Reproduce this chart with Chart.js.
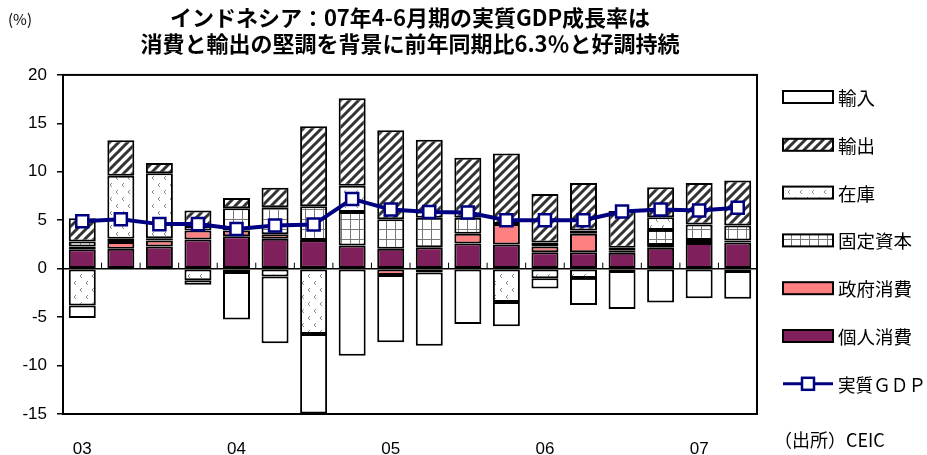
<!DOCTYPE html>
<html>
<head>
<meta charset="utf-8">
<style>
  html, body { margin: 0; padding: 0; background: #fff; }
  #wrap { width: 927px; height: 455px; }
</style>
<script src="https://cdn.jsdelivr.net/npm/chart.js@4"></script>
</head>
<body>
<div id="wrap"><canvas id="myChart" width="927" height="455"></canvas></div>
<script>
// quarters 2003Q1 - 2007Q2
const quarters = ["03Q1", "03Q2", "03Q3", "03Q4", "04Q1", "04Q2", "04Q3", "04Q4", "05Q1",
  "05Q2", "05Q3", "05Q4", "06Q1", "06Q2", "06Q3", "06Q4", "07Q1", "07Q2"];

// contributions (% pt)
const kojinShohi = [2.0, 2.05, 2.3, 3.0, 3.35, 3.1, 2.95, 2.4, 2.05, 2.2, 2.6, 2.5, 1.7, 1.7, 1.65, 2.15, 2.65, 2.7];
const seifuShohi = [0.3, 0.7, 0.6, 0.95, 0.6, 0.45, 0, 0, -0.65, -0.4, 1.0, 2.1, 0.6, 1.9, 0.2, 0.3, 0.3, 0.2];
const koteiShihon = [0.5, 0.35, 0.25, 0.45, 2.3, 2.8, 3.5, 3.45, 3.05, 3.05, 1.65, 0, 0.4, 0.35, 0.3, 1.55, 1.6, 1.55];
const zaiko = [-3.8, 6.5, 6.7, -1.2, -0.35, -0.8, -6.75, 2.7, 0, 0, 0, -3.45, -1.0, -0.95, -0.25, 1.3, 0, -0.25];
const yushutsu = [2.4, 3.65, 1.05, 1.6, 1.05, 2.0, 8.25, 9.05, 9.2, 8.05, 6.2, 7.3, 5.0, 4.9, 3.8, 3.1, 4.3, 4.65];
const yunyu = [-1.3, 0, -0.1, -0.45, -4.9, -6.9, -8.2, -9.0, -6.95, -7.55, -5.7, -2.5, -1.05, -2.8, -3.9, -3.5, -3.05, -2.85];
const realGdp = [4.9, 5.1, 4.6, 4.6, 4.1, 4.45, 4.55, 7.2, 6.1, 5.85, 5.8, 5.0, 5.0, 5.0, 5.9, 6.1, 6.0, 6.3];

const yTicks = { min: -15, max: 20, step: 5 };
const titleLines = ["インドネシア：07年4-6月期の実質GDP成長率は", "消費と輸出の堅調を背景に前年同期比6.3％と好調持続"];

// fill patterns
function makePattern(kind) {
  const c = document.createElement("canvas");
  const g = c.getContext("2d");
  if (kind == "hatch") {
    c.width = 9; c.height = 9;
    g.fillStyle = "#fff"; g.fillRect(0, 0, 9, 9);
    g.strokeStyle = "#333"; g.lineWidth = 3;
    g.beginPath();
    g.moveTo(-2, 11); g.lineTo(11, -2);
    g.moveTo(-2, 2); g.lineTo(2, -2);
    g.moveTo(7, 11); g.lineTo(11, 7);
    g.stroke();
  } else if (kind == "dots") {
    c.width = 12; c.height = 14;
    g.fillStyle = "#fff"; g.fillRect(0, 0, 12, 14);
    g.strokeStyle = "#888"; g.lineWidth = 1;
    g.beginPath();
    g.moveTo(4, 1); g.lineTo(2, 3); g.lineTo(4, 5);
    g.moveTo(10, 8); g.lineTo(8, 10); g.lineTo(10, 12);
    g.stroke();
  } else {
    c.width = 9; c.height = 10;
    g.fillStyle = "#fff"; g.fillRect(0, 0, 9, 10);
    g.strokeStyle = "#777"; g.lineWidth = 1;
    g.beginPath();
    g.moveTo(8.5, 0); g.lineTo(8.5, 10);
    g.moveTo(0, 9.5); g.lineTo(9, 9.5);
    g.stroke();
  }
  return g.createPattern(c, "repeat");
}

const barBase = { type: "bar", borderColor: "#000", borderWidth: 2, borderSkipped: false, order: 1 };

// stacked from bottom: 個人 -> 政府 -> 固定 -> 在庫 -> 輸出 -> 輸入
const datasets = [
  Object.assign({ label: "個人消費", data: kojinShohi, backgroundColor: "#7f1f5c" }, barBase),
  Object.assign({ label: "政府消費", data: seifuShohi, backgroundColor: "#ff8080" }, barBase),
  Object.assign({ label: "固定資本", data: koteiShihon, backgroundColor: makePattern("grid") }, barBase),
  Object.assign({ label: "在庫", data: zaiko, backgroundColor: makePattern("dots") }, barBase),
  Object.assign({ label: "輸出", data: yushutsu, backgroundColor: makePattern("hatch") }, barBase),
  Object.assign({ label: "輸入", data: yunyu, backgroundColor: "#fff" }, barBase),
  {
    type: "line", label: "実質ＧＤＰ", data: realGdp, stack: "gdp", order: 0,
    borderColor: "#000080", borderWidth: 4, pointStyle: "rect", pointRadius: 8.5,
    pointBorderWidth: 2.5, pointBackgroundColor: "#fff", pointBorderColor: "#000080"
  }
];
const legendOrder = ["輸入", "輸出", "在庫", "固定資本", "政府消費", "個人消費", "実質ＧＤＰ"];

const jpFont = "'Noto Sans CJK JP', sans-serif";
const numFont = "'Liberation Sans', Arial, sans-serif";

// frame, zero-line ticks, legend, side notes
const extras = {
  id: "extras",
  afterDatasetsDraw(chart) {
    const ctx = chart.ctx, a = chart.chartArea;
    const xs = chart.scales.x, ys = chart.scales.y;
    const y0 = ys.getPixelForValue(0);
    ctx.save();
    ctx.strokeStyle = "#000";
    ctx.lineWidth = 1;
    ctx.beginPath();
    for (let i = 1; i < quarters.length; i++) {
      const bx = (xs.getPixelForValue(i - 1) + xs.getPixelForValue(i)) / 2;
      ctx.moveTo(bx, y0 - 6); ctx.lineTo(bx, y0);
    }
    ctx.stroke();
    ctx.lineWidth = 2;
    ctx.strokeRect(a.left, a.top, a.right - a.left, a.bottom - a.top);
    ctx.restore();
  },
  afterDraw(chart) {
    const ctx = chart.ctx;
    ctx.save();
    ctx.fillStyle = "#000";
    ctx.textBaseline = "middle";
    ctx.font = "15px " + jpFont;
    ctx.fillText("(%)", 8, 19);
    ctx.font = "18px " + jpFont;
    ctx.fillText("（出所）CEIC", 774, 440);

    // legend
    const lx = 783, bw = 50, bh = 12;
    legendOrder.forEach(function (name, k) {
      const ds = chart.data.datasets.find(function (d) { return d.label == name; });
      const cy = 97 + k * 47.8;
      if (ds.type == "line") {
        ctx.strokeStyle = ds.borderColor; ctx.lineWidth = 3;
        ctx.beginPath(); ctx.moveTo(lx, cy); ctx.lineTo(lx + bw, cy); ctx.stroke();
        ctx.fillStyle = "#fff"; ctx.lineWidth = 2.5;
        ctx.fillRect(lx + bw / 2 - 6, cy - 6, 12, 12);
        ctx.strokeRect(lx + bw / 2 - 6, cy - 6, 12, 12);
      } else {
        ctx.fillStyle = ds.backgroundColor;
        ctx.fillRect(lx, cy - bh / 2, bw, bh);
        ctx.strokeStyle = "#000"; ctx.lineWidth = 2;
        ctx.strokeRect(lx, cy - bh / 2, bw, bh);
      }
      ctx.fillStyle = "#000";
      ctx.font = "18.5px " + jpFont;
      ctx.fillText(name, lx + bw + 5, cy + 1, 88);
    });
    ctx.restore();
  }
};

const ctx = document.getElementById("myChart").getContext("2d");
const myChart = new Chart(ctx, {
  data: { labels: quarters, datasets: datasets },
  options: {
    responsive: false,
    animation: false,
    layout: { padding: { left: 0, right: 170, top: 0, bottom: 0 } },
    datasets: { bar: { categoryPercentage: 1, barPercentage: 0.7 } },
    plugins: {
      legend: { display: false },
      tooltip: { enabled: false },
      title: {
        display: true,
        fullSize: false,
        text: titleLines,
        color: "#000",
        font: { family: jpFont, size: 22, weight: "bold", lineHeight: 1.18 },
        padding: { top: 5, bottom: 18 }
      }
    },
    scales: {
      x: {
        stacked: true,
        grid: { display: false },
        border: { display: false },
        ticks: {
          color: "#000",
          font: { family: numFont, size: 17 },
          padding: 17,
          autoSkip: false,
          maxRotation: 0,
          callback: function (v, i) {
            const q = quarters[i];
            return q.endsWith("Q1") ? q.slice(0, 2) : "";
          }
        },
        afterFit: function (scale) { scale.height = 41; }
      },
      y: {
        stacked: true,
        min: yTicks.min,
        max: yTicks.max,
        border: { display: false },
        grid: {
          color: function (c) { return c.tick && c.tick.value === 0 ? "#000" : "rgba(0,0,0,0)"; },
          tickColor: "#000",
          tickLength: 6,
          lineWidth: 1.5
        },
        ticks: {
          stepSize: yTicks.step,
          color: "#000",
          font: { family: numFont, size: 17 },
          padding: 10
        },
        afterFit: function (scale) { scale.width = 63; }
      }
    }
  },
  plugins: [extras]
});
</script>
</body>
</html>
